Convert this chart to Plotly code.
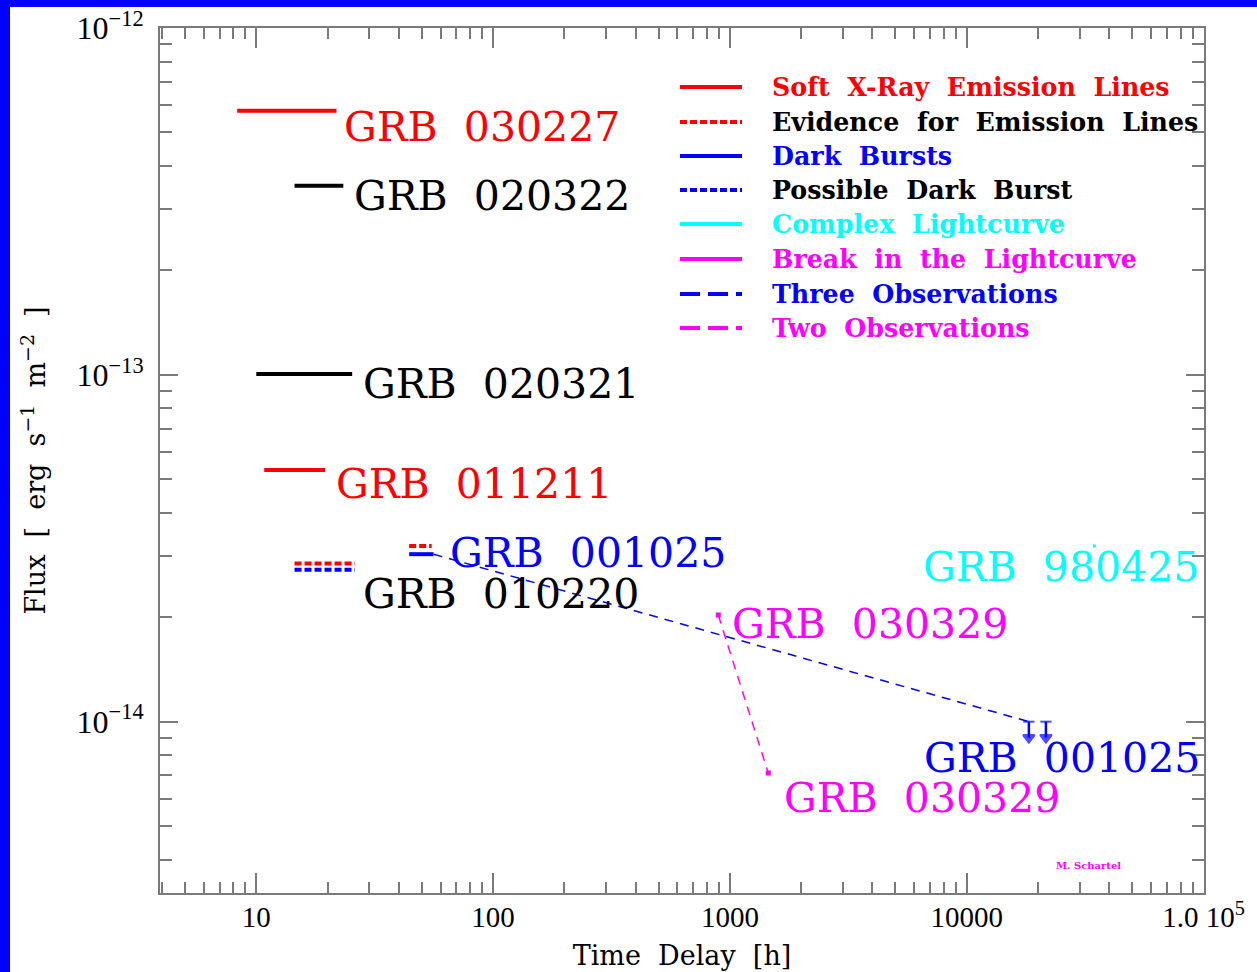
import numpy as np
import plotly.graph_objects as go

# ---------------- data ----------------
# horizontal flux bars: observation window [t_start, t_end] in hours, flux in erg s^-1 m^-2
bar_t0 = [8.3, 14.5, 10.0, 10.8, 14.5, 14.5, 44.2, 44.2]
bar_t1 = [21.8, 23.3, 25.4, 19.5, 26.1, 26.1, 55.0, 56.0]
bar_flux = [5.77e-13, 3.51e-13, 1.005e-13, 5.32e-14, 2.86e-14, 2.74e-14, 3.21e-14, 3.04e-14]
bar_kind = ["lines", "plain", "plain", "lines", "evidence", "possible_dark", "evidence", "dark"]

# GRB 001025: three observations (first detection + two upper limits)
three_t = [56.0, 18300.0]
three_flux = [3.04e-14, 1.0e-14]
ul_t = [18300.0, 21600.0]
ul_flux = [1.0e-14, 1.0e-14]

# GRB 030329: two observations
two_t = [893.0, 1452.0]
two_flux = [2.03e-14, 7.11e-15]

# GRB 980425
cx_t = [34600.0]
cx_flux = [3.21e-14]

# burst labels
label_text = ["GRB 030227", "GRB 020322", "GRB 020321", "GRB 011211", "GRB 001025",
              "GRB 010220", "GRB 980425", "GRB 030329", "GRB 001025", "GRB 030329"]
label_t = [23.0, 25.3, 27.6, 21.2, 64.5, 27.6, 6380.0, 1004.0, 6450.0, 1666.0]
label_flux = [5.19e-13, 3.28e-13, 9.42e-14, 4.85e-14, 3.07e-14, 2.34e-14, 2.79e-14,
              1.91e-14, 7.86e-15, 6.03e-15]
label_color = ["red", "black", "black", "red", "blue", "black", "cyan", "magenta", "blue", "magenta"]

# legend entries
legend_labels = ["Soft X-Ray Emission Lines", "Evidence for Emission Lines", "Dark Bursts",
                 "Possible Dark Burst", "Complex Lightcurve", "Break in the Lightcurve",
                 "Three Observations", "Two Observations"]
legend_text_color = ["red", "black", "blue", "black", "cyan", "magenta", "blue", "magenta"]
legend_line_color = ["red", "red", "blue", "blue", "cyan", "magenta", "blue", "magenta"]
legend_line_dash = ["solid", "dot", "solid", "dot", "solid", "solid", "dash", "dash"]

# axis ticks
x_tickvals = [10, 100, 1000, 10000, 100000]
x_ticktext = ["10", "100", "1000", "10000", "1.0 10<sup>5</sup>"]
y_tickvals = [1e-14, 1e-13, 1e-12]
y_ticktext = ["10<sup>\u221214</sup>", "10<sup>\u221213</sup>", "10<sup>\u221212</sup>"]

# ---------------- styling ----------------
W, H = 1257, 972
L, R, T, B = 160, 53, 28, 79
PW, PH = W - L - R, H - T - B

def px_x(px):
    return (px - L) / PW

def px_y(py):
    return (H - B - py) / PH

kind_style = {
    "lines": ("red", None, 4),
    "plain": ("black", None, 4),
    "evidence": ("red", "7px,3px", 4),
    "possible_dark": ("blue", "7px,3px", 4),
    "dark": ("blue", None, 4),
}

fig = go.Figure()

for t0, t1, f, k in zip(bar_t0, bar_t1, bar_flux, bar_kind):
    col, dash, w = kind_style[k]
    fig.add_trace(go.Scatter(x=[t0, t1], y=[f, f], mode="lines",
                             line=dict(color=col, width=w, dash=dash or "solid"),
                             hoverinfo="skip", showlegend=False))

fig.add_trace(go.Scatter(x=three_t, y=three_flux, mode="lines",
                         line=dict(color="blue", width=1.5, dash="9px,7px"),
                         showlegend=False, hoverinfo="skip"))
fig.add_trace(go.Scatter(x=two_t, y=two_flux, mode="lines+markers",
                         line=dict(color="magenta", width=1.5, dash="9px,7px"),
                         marker=dict(symbol="square", size=5, color="magenta"),
                         showlegend=False, hoverinfo="skip"))
for t, f in zip(ul_t, ul_flux):
    fig.add_trace(go.Scatter(x=[t, t], y=[f, f * 0.9], mode="lines+markers",
                             line=dict(color="blue", width=2.5),
                             marker=dict(symbol=["line-ew", "triangle-down"], size=[8, 10],
                                         color="blue", line=dict(color="blue", width=2)),
                             showlegend=False, hoverinfo="skip"))
fig.add_trace(go.Scatter(x=cx_t, y=cx_flux, mode="markers",
                         marker=dict(symbol="square", size=3, color="cyan"),
                         showlegend=False, hoverinfo="skip"))

annotations = []
for txt, t, f, c in zip(label_text, label_t, label_flux, label_color):
    annotations.append(dict(x=np.log10(t), y=np.log10(f), xref="x", yref="y",
                            text=txt.replace(" ", "\u00a0\u00a0"), showarrow=False,
                            xanchor="left", yanchor="middle",
                            font=dict(family="DejaVu Serif", size=41, color=c)))

shapes = []
row_y = [87, 122, 156, 190, 224, 259, 294, 328]
for lab, tc, lc, ld, py in zip(legend_labels, legend_text_color, legend_line_color,
                               legend_line_dash, row_y):
    dash = {"solid": "solid", "dot": "7px,3px", "dash": "20px,8px"}[ld]
    shapes.append(dict(type="line", xref="paper", yref="paper",
                       x0=px_x(680), x1=px_x(742), y0=px_y(py), y1=px_y(py),
                       line=dict(color=lc, width=4, dash=dash)))
    annotations.append(dict(x=px_x(770), y=px_y(py), xref="paper", yref="paper",
                            text=lab.replace(" ", "\u00a0\u00a0"), showarrow=False,
                            xanchor="left", yanchor="middle",
                            font=dict(family="DejaVu Serif", size=25.3, color=tc, weight="bold")))

annotations.append(dict(x=px_x(1088), y=px_y(865), xref="paper", yref="paper",
                        text="M. Schartel", showarrow=False, xanchor="center", yanchor="middle",
                        font=dict(family="DejaVu Serif", size=10, color="magenta", weight="bold")))

# blue frame (top and left)
shapes.append(dict(type="rect", xref="paper", yref="paper", x0=px_x(0), x1=px_x(10),
                   y0=px_y(H), y1=px_y(0), fillcolor="blue", line=dict(width=0), layer="below"))
shapes.append(dict(type="rect", xref="paper", yref="paper", x0=px_x(0), x1=px_x(W),
                   y0=px_y(7), y1=px_y(0), fillcolor="blue", line=dict(width=0), layer="below"))

def minor_vals(lo, hi):
    out = []
    for d in range(lo, hi):
        for m in range(2, 10):
            out.append(m * 10.0 ** d)
    return out

axis_common = dict(type="log", showgrid=False, zeroline=False, showline=True,
                   linecolor="#7a7a7a", linewidth=2, mirror="allticks",
                   ticks="inside", tickcolor="#7a7a7a", tickwidth=2)

fig.update_layout(
    width=W, height=H,
    margin=dict(l=L, r=R, t=T, b=B, autoexpand=False),
    paper_bgcolor="white", plot_bgcolor="white",
    showlegend=False,
    annotations=annotations, shapes=shapes,
    xaxis=dict(axis_common, range=[np.log10(3.92), 5.002],
               tickmode="array", tickvals=x_tickvals, ticktext=x_ticktext, ticklen=20,
               ticklabelstandoff=-3,
               tickfont=dict(family="Liberation Serif", size=29, color="black"),
               minor=dict(tickmode="array", tickvals=minor_vals(0, 5), ticks="inside",
                          ticklen=11, tickcolor="#7a7a7a", tickwidth=2),
               title=dict(text="Time\u00a0\u00a0Delay\u00a0\u00a0[h]", standoff=14,
                          font=dict(family="DejaVu Serif", size=27, color="black"))),
    yaxis=dict(axis_common, range=[-14.494, -12.0],
               tickmode="array", tickvals=y_tickvals, ticktext=y_ticktext, ticklen=18,
               ticklabelstandoff=8,
               tickfont=dict(family="Liberation Serif", size=32, color="black"),
               minor=dict(tickmode="array", tickvals=minor_vals(-15, -12), ticks="inside",
                          ticklen=12, tickcolor="#7a7a7a", tickwidth=2),
               title=dict(text="Flux\u00a0\u00a0[\u00a0\u00a0erg\u00a0\u00a0s<sup>\u22121</sup>\u00a0\u00a0m<sup>\u22122</sup>\u00a0\u00a0]",
                          standoff=23,
                          font=dict(family="DejaVu Serif", size=27, color="black"))),
)

fig.write_html("out.html")
